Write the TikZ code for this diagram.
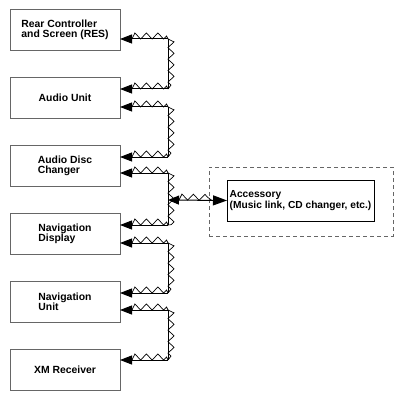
\documentclass[tikz,border=0pt]{standalone}
\usepackage{fontspec}
\setmainfont{Liberation Sans}
\usetikzlibrary{arrows.meta,decorations.pathmorphing,calc}
\begin{document}
\begin{tikzpicture}[x=1pt,y=-1pt,
  unitbox/.style={draw=black!60, line width=0.9pt, minimum width=110pt, minimum height=41pt,
    inner sep=0pt, outer sep=0pt, align=left, font=\fontsize{10.4}{10.4}\selectfont\bfseries},
  accbox/.style={draw=black, line width=0.9pt, minimum width=147pt, minimum height=41pt,
    inner sep=0pt, outer sep=0pt, align=left, font=\fontsize{10.2}{10.4}\selectfont\bfseries},
  groupbox/.style={draw=black!60, line width=0.9pt, dashed, dash pattern=on 4pt off 3pt,
    minimum width=184pt, minimum height=69pt, inner sep=0pt, outer sep=0pt},
  tip/.style={-{Triangle[length=12pt,width=9pt]}},
  cable/.style={line width=1pt, tip},
  wire/.style={line width=1pt},
  zz/.style={line width=0.7pt, decorate,
    decoration={zigzag, segment length=11.5pt, amplitude=3pt, raise=3pt}},
]
\useasboundingbox (0,0) rectangle (404,401);

% boxes
\node[unitbox] (b1) at (65,30)    {Rear Controller\\and Screen (RES)};
\node[unitbox] (b2) at (65,97.5)  {Audio Unit};
\node[unitbox] (b3) at (65,166)   {Audio Disc\\Changer};
\node[unitbox] (b4) at (65,234)   {Navigation\\Display};
\node[unitbox] (b5) at (65,302)   {Navigation\\Unit};
\node[unitbox] (b6) at (65,369.5) {XM Receiver};

\node[groupbox] (grp) at (301,201.5) {};
\node[accbox] (acc) at (300.5,200.5) {Accessory\\(Music link, CD changer, etc.)};

% corners
\coordinate (p1) at (168,39);  \coordinate (q1) at (168,89);
\coordinate (p2) at (168,107); \coordinate (q2) at (168,157);
\coordinate (p3) at (168,173); \coordinate (q3) at (168,225);
\coordinate (p4) at (168,243); \coordinate (q4) at (168,293);
\coordinate (p5) at (168,310); \coordinate (q5) at (168,360);
\coordinate (j)  at (168,200);

% cables between units
\foreach \a/\b/\p/\q in {b1/b2/p1/q1, b2/b3/p2/q2, b3/b4/p3/q3, b4/b5/p4/q4, b5/b6/p5/q5}{
  \draw[wire] (\p) -- (\q);
  \draw[cable] (\p) -- (\p -| \a.east);
  \draw[cable] (\q) -- (\q -| \b.east);
  \draw[zz] ($(\p -| \a.east)+(12,0)$) -- (\p);
  \draw[zz] ($(\q -| \b.east)+(12,0)$) -- (\q);
  \draw[zz] (\p) -- (\q);
}

% accessory branch
\draw[line width=1pt, {Triangle[length=11pt,width=9pt]}-{Triangle[length=14pt,width=10pt]}] (j) -- (acc.west);
\draw[zz] ($(j)+(11,0)$) -- ($(acc.west)+(-15,0)$);
\end{tikzpicture}
\end{document}
